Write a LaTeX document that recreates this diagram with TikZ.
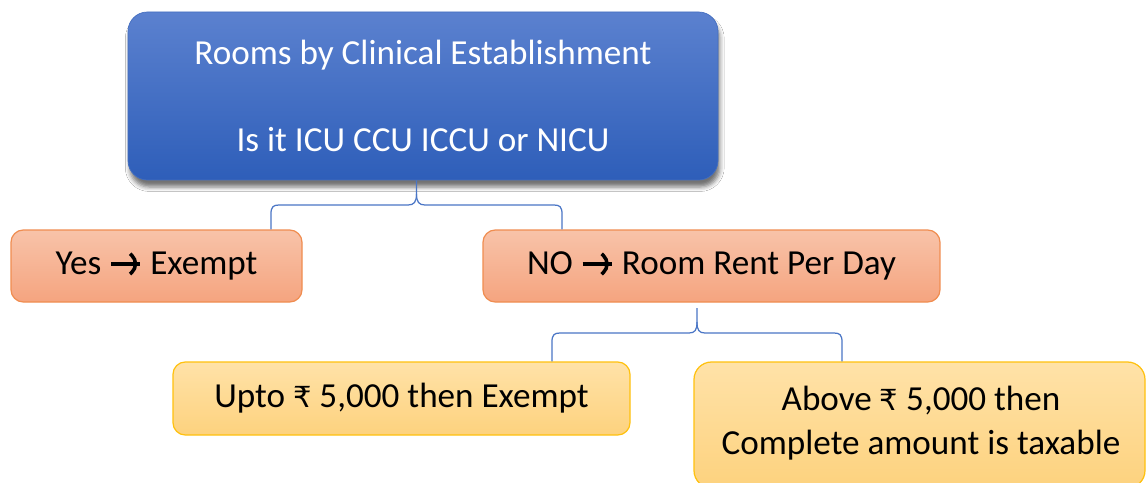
\documentclass[tikz,border=0pt]{standalone}
\usepackage{fontspec}
\setmainfont{Carlito}
\newfontfamily\symfont{DejaVu Sans}
\usetikzlibrary{shadows.blur}
\definecolor{blueTop}{HTML}{5B81CF}
\definecolor{blueBot}{HTML}{2E5EB9}
\definecolor{orTop}{HTML}{F8C3A9}
\definecolor{orBot}{HTML}{F5A47F}
\definecolor{orLine}{HTML}{F08D50}
\definecolor{ylTop}{HTML}{FFE2A8}
\definecolor{ylBot}{HTML}{FDD27E}
\definecolor{ylLine}{HTML}{FFC10E}
\definecolor{braceBlue}{HTML}{4A76C6}
\newcommand{\rupee}{{\symfont\fontsize{16.5}{20}\selectfont ₹}}
% heavy chevron arrow used between the answer and its consequence
\newcommand{\thenarrow}{\tikz[x=1pt, y=1pt, baseline=0pt]{%
  \draw[line width=2pt, line cap=butt] (0,6) -- (16.5,6);
  \draw[line width=2pt, line join=miter] (10.8,11.8) -- (16.8,6) -- (10.8,0.2);}}
\tikzset{
  boxtext/.style={font=\fontsize{20}{25.3}\selectfont, align=center, inner sep=0pt},
  topbox/.style={boxtext, rounded corners=11pt, top color=blueTop, bottom color=blueBot,
    draw=blueBot!90!white, line width=0.4pt, text=white,
    blur shadow={shadow xshift=1pt, shadow yshift=-4pt, shadow blur radius=2.5pt, shadow opacity=55}},
  orbox/.style={boxtext, rounded corners=7pt, top color=orTop, bottom color=orBot,
    draw=orLine, line width=0.7pt},
  ylbox/.style={boxtext, rounded corners=7pt, top color=ylTop, bottom color=ylBot,
    draw=ylLine, line width=0.7pt},
  brace/.style={draw=braceBlue, line width=0.7pt},
}
\begin{document}
\begin{tikzpicture}[x=0.02cm, y=-0.02cm]
\clip (0,0) rectangle (1147,483);
\fill[white] (0,0) rectangle (1147,483);

% question box
\node[topbox, minimum width=590*0.02cm, minimum height=168*0.02cm] (top) at (423,96)
  {Rooms by Clinical Establishment\\[24pt]Is it ICU CCU ICCU or NICU};

% first-level answers
\node[orbox, minimum width=291*0.02cm, minimum height=72*0.02cm] (yes) at (156.5,266)
  {Yes \thenarrow{} Exempt};
\node[orbox, minimum width=457*0.02cm, minimum height=72*0.02cm] (no) at (711.5,266)
  {NO \thenarrow{} Room Rent Per Day};

% second-level answers
\node[ylbox, minimum width=457*0.02cm, minimum height=73*0.02cm] (upto) at (401.5,398.5)
  {Upto \rupee{} 5,000 then Exempt};
\node[ylbox, rounded corners=10pt, minimum width=451*0.02cm, minimum height=126*0.02cm] (above) at (919.5,425)
  {};
\node[boxtext] (abovetext) at (921,423)
  {Above \rupee{} 5,000 then\\Complete amount is taxable};

% brace from the question to its answers
\coordinate (b1l) at (271,205);
\coordinate (b1r) at (562,205);
\coordinate (b1c) at (416.5,205);
\path[brace] (top.south -| b1c) -- (416.5,194)
  .. controls (416.5,202) and (414,205) .. (408,205) -- (279,205)
  .. controls (273,205) and (271,207) .. (271,214) -- (b1l |- yes.north);
\path[brace] (416.5,194)
  .. controls (416.5,202) and (419,205) .. (425,205) -- (554,205)
  .. controls (560,205) and (562,207) .. (562,214) -- (b1r |- no.north);

% brace from the room rent to its slabs
\coordinate (b2l) at (552,333);
\coordinate (b2r) at (842,333);
\coordinate (b2c) at (697,333);
\path[brace] (697,308) -- (697,322)
  .. controls (697,330) and (695,333) .. (689,333) -- (560,333)
  .. controls (554,333) and (552,335) .. (552,342) -- (b2l |- upto.north);
\path[brace] (697,322)
  .. controls (697,330) and (699,333) .. (705,333) -- (834,333)
  .. controls (840,333) and (842,335) .. (842,342) -- (b2r |- above.north);
\end{tikzpicture}
\end{document}
